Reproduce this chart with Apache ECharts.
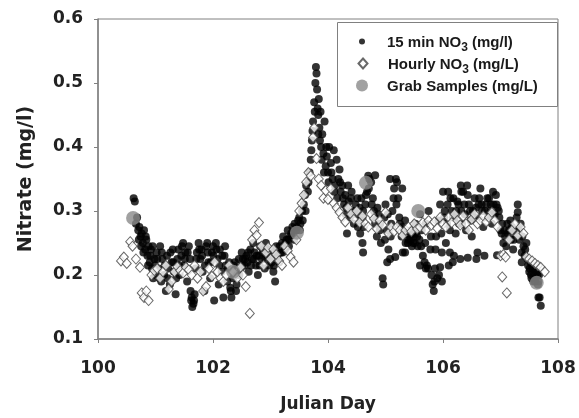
<!DOCTYPE html>
<html>
<head>
<meta charset="utf-8">
<script src="https://cdn.jsdelivr.net/npm/echarts@6/dist/echarts.min.js"></script>
<style>html,body{margin:0;padding:0;background:#fff}#c{width:579px;height:418px}</style>
</head>
<body>
<div id="c"></div>
<script>
// Axis ticks
const xTicks = [100, 102, 104, 106, 108];
const yTicks = [0.1, 0.2, 0.3, 0.4, 0.5, 0.6];
const seriesNames = ['15 min NO3 (mg/l)', 'Hourly NO3 (mg/L)', 'Grab Samples (mg/L)'];

// 15-minute nitrate readings [Julian day, mg/l]
const min15Points = [
[100.62,0.32],[100.64,0.315],[100.66,0.28],[100.68,0.29],[100.70,0.27],[100.72,0.275],[100.74,0.26],[100.76,0.265],[100.78,0.25],[100.80,0.27],
[100.82,0.24],[100.84,0.255],[100.86,0.23],[100.88,0.245],[100.90,0.22],[100.92,0.24],[100.94,0.21],[100.96,0.195],[100.98,0.225],[101.00,0.20],
[101.02,0.235],[101.05,0.21],[101.08,0.245],[101.10,0.19],[101.12,0.225],[101.15,0.20],[101.18,0.175],[101.20,0.23],[101.22,0.21],[101.25,0.185],
[101.28,0.22],[101.30,0.24],[101.32,0.205],[101.35,0.17],[101.38,0.225],[101.40,0.24],[101.42,0.20],[101.45,0.23],[101.48,0.25],[101.50,0.215],
[101.52,0.235],[101.55,0.19],[101.58,0.245],[101.60,0.225],[101.62,0.16],[101.64,0.15],[101.66,0.155],[101.68,0.17],[101.70,0.21],[101.72,0.235],
[101.75,0.25],[101.78,0.225],[101.80,0.24],[101.82,0.205],[101.85,0.175],[101.88,0.245],[101.90,0.25],[101.92,0.22],[101.95,0.195],[101.98,0.235],
[102.00,0.245],[102.02,0.16],[102.05,0.25],[102.08,0.225],[102.10,0.185],[102.12,0.24],[102.15,0.205],[102.18,0.165],[102.20,0.23],[102.22,0.215],
[102.25,0.19],[102.28,0.22],[102.30,0.18],[102.32,0.165],[102.35,0.195],[102.38,0.22],[102.40,0.175],[102.42,0.20],[102.45,0.225],[102.48,0.21],
[102.50,0.235],[102.52,0.225],[102.55,0.215],[102.58,0.23],[102.60,0.22],[102.62,0.205],[102.65,0.24],[102.68,0.225],[102.70,0.25],[102.72,0.235],
[102.75,0.215],[102.78,0.20],[102.80,0.23],[102.82,0.245],[102.85,0.225],[102.88,0.24],[102.90,0.21],[102.92,0.25],[102.95,0.23],[102.98,0.215],
[103.00,0.24],[103.02,0.22],[103.05,0.205],[103.08,0.19],[103.10,0.245],[103.12,0.23],[103.15,0.22],[103.18,0.235],[103.20,0.25],[103.22,0.26],
[103.25,0.24],[103.28,0.255],[103.30,0.27],[103.32,0.245],[103.35,0.26],[103.38,0.275],[103.40,0.265],[103.42,0.28],[103.45,0.27],[103.48,0.285],
[103.50,0.29],[103.52,0.28],[103.55,0.30],[103.58,0.31],[103.60,0.325],[103.62,0.34],[103.65,0.33],[103.68,0.36],[103.70,0.38],[103.72,0.41],
[103.74,0.44],[103.76,0.47],[103.78,0.50],[103.79,0.525],[103.80,0.515],[103.81,0.49],[103.82,0.46],[103.83,0.45],[103.84,0.475],[103.85,0.43],
[103.86,0.41],[103.87,0.455],[103.88,0.40],[103.90,0.42],[103.92,0.39],[103.94,0.44],[103.96,0.37],[103.98,0.385],[104.00,0.36],[104.02,0.40],
[104.05,0.375],[104.08,0.35],[104.10,0.395],[104.12,0.34],[104.15,0.38],[104.18,0.35],[104.20,0.365],[104.22,0.33],[104.25,0.34],[104.28,0.31],
[104.30,0.325],[104.32,0.305],[104.35,0.34],[104.38,0.29],[104.40,0.32],[104.42,0.30],[104.45,0.28],[104.48,0.31],[104.50,0.295],[104.52,0.275],
[104.55,0.305],[104.58,0.32],[104.60,0.29],[104.62,0.275],[104.65,0.31],[104.68,0.33],[104.70,0.355],[104.72,0.35],[104.75,0.345],[104.78,0.32],
[104.80,0.30],[104.82,0.28],[104.85,0.26],[104.88,0.295],[104.90,0.27],[104.92,0.25],[104.95,0.195],[104.96,0.185],[104.98,0.29],[105.00,0.31],
[105.02,0.27],[105.05,0.24],[105.08,0.225],[105.10,0.28],[105.12,0.30],[105.15,0.335],[105.18,0.35],[105.20,0.345],[105.22,0.32],[105.25,0.28],
[105.28,0.26],[105.30,0.235],[105.32,0.27],[105.35,0.25],[105.38,0.265],[105.40,0.255],[105.42,0.26],[105.45,0.27],[105.48,0.25],[105.50,0.265],
[105.52,0.28],[105.55,0.26],[105.58,0.275],[105.60,0.295],[105.62,0.245],[105.65,0.23],[105.68,0.22],[105.70,0.28],[105.72,0.215],[105.75,0.30],
[105.78,0.24],[105.80,0.20],[105.82,0.185],[105.84,0.175],[105.86,0.21],[105.88,0.26],[105.90,0.195],[105.92,0.285],[105.95,0.31],[105.98,0.235],
[106.00,0.33],[106.02,0.29],[106.05,0.25],[106.08,0.31],[106.10,0.215],[106.12,0.27],[106.15,0.30],[106.18,0.32],[106.20,0.29],[106.22,0.265],
[106.25,0.315],[106.28,0.28],[106.30,0.225],[106.32,0.30],[106.35,0.33],[106.38,0.295],[106.40,0.27],[106.42,0.34],[106.45,0.31],[106.48,0.285],
[106.50,0.26],[106.52,0.30],[106.55,0.32],[106.58,0.225],[106.60,0.29],[106.62,0.31],[106.65,0.335],[106.68,0.30],[106.70,0.275],[106.72,0.23],
[106.75,0.31],[106.78,0.29],[106.80,0.32],[106.82,0.30],[106.85,0.28],[106.88,0.31],[106.90,0.295],[106.92,0.325],[106.95,0.305],[106.98,0.29],
[107.00,0.27],[107.02,0.265],[107.05,0.25],[107.08,0.26],[107.10,0.245],[107.12,0.28],[107.15,0.27],[107.18,0.255],[107.20,0.275],[107.22,0.24],
[107.25,0.265],[107.28,0.29],[107.30,0.31],[107.32,0.27],[107.35,0.28],[107.38,0.26],[107.40,0.245],[107.42,0.23],[107.45,0.25],[107.48,0.215],
[107.50,0.205],[107.52,0.22],[107.54,0.195],[107.56,0.21],[107.58,0.20],[107.60,0.19],[107.62,0.215],[107.64,0.20],[107.66,0.19],[107.68,0.165],
[107.70,0.152],
[100.71,0.255],[100.75,0.245],[100.79,0.235],[100.83,0.26],[100.87,0.215],[100.91,0.23],[100.95,0.245],[100.99,0.215],[101.03,0.225],[101.07,0.195],
[101.11,0.235],[101.16,0.215],[101.21,0.195],[101.26,0.235],[101.31,0.22],[101.36,0.195],[101.41,0.215],[101.46,0.245],[101.51,0.225],[101.56,0.235],
[101.61,0.175],[101.63,0.165],[101.67,0.16],[101.71,0.225],[101.76,0.24],[101.81,0.23],[101.86,0.215],[101.91,0.235],[101.96,0.22],[102.01,0.23],
[102.06,0.24],[102.11,0.215],[102.16,0.23],[102.21,0.245],[102.26,0.21],[102.31,0.175],[102.36,0.215],[102.41,0.185],[102.46,0.20],[102.51,0.215],
[102.56,0.225],[102.61,0.235],[102.66,0.215],[102.71,0.225],[102.76,0.23],[102.81,0.215],[102.86,0.235],[102.91,0.225],[102.96,0.24],[103.01,0.23],
[103.06,0.215],[103.11,0.235],[103.16,0.245],[103.21,0.235],[103.26,0.25],[103.31,0.255],[103.36,0.265],[103.41,0.255],[103.46,0.275],[103.51,0.27],
[103.56,0.285],[103.61,0.30],[103.66,0.345],[103.71,0.395],[103.73,0.425],[103.77,0.455],[103.83,0.42],[103.89,0.38],[103.93,0.36],[103.97,0.40],
[104.01,0.345],[104.06,0.36],[104.11,0.33],[104.16,0.32],[104.21,0.345],[104.26,0.32],[104.31,0.295],[104.36,0.315],[104.41,0.33],[104.46,0.30],
[104.51,0.32],[104.56,0.285],[104.61,0.30],[104.66,0.325],[104.71,0.335],[104.76,0.31],[104.81,0.29],[104.86,0.305],[104.91,0.28],[104.99,0.255],
[105.04,0.295],[105.09,0.26],[105.14,0.32],[105.19,0.31],[105.24,0.29],[105.29,0.275],[105.34,0.285],[105.39,0.25],[105.44,0.255],[105.46,0.245],
[105.49,0.26],[105.51,0.25],[105.53,0.265],[105.56,0.245],[105.59,0.255],[105.63,0.27],[105.69,0.25],[105.74,0.21],[105.79,0.26],[105.87,0.24],
[105.93,0.20],[105.97,0.265],[106.03,0.30],[106.07,0.28],[106.13,0.32],[106.17,0.29],[106.23,0.30],[106.27,0.31],[106.33,0.28],[106.37,0.31],
[106.43,0.325],[106.47,0.30],[106.53,0.29],[106.57,0.305],[106.63,0.32],[106.67,0.31],[106.73,0.30],[106.77,0.32],[106.83,0.31],[106.87,0.295],
[106.93,0.31],[106.97,0.30],[107.03,0.28],[107.07,0.27],[107.13,0.265],[107.17,0.285],[107.23,0.255],[107.27,0.27],[107.33,0.255],[107.37,0.235],
[107.43,0.24],[107.47,0.225],[107.51,0.21],[107.53,0.20],[107.55,0.215],[107.57,0.19],[107.59,0.21],[107.61,0.195],[107.63,0.205],[107.65,0.185],
[107.67,0.20],
[104.33,0.265],[104.56,0.265],[104.60,0.25],[104.61,0.235],[105.03,0.22],[105.17,0.228],[105.34,0.235],[105.60,0.215],[105.70,0.21],[105.85,0.19],
[105.95,0.212],[105.98,0.19],[106.12,0.235],[106.17,0.22],[106.19,0.23],[106.43,0.227],[106.60,0.235],[106.94,0.231],[106.31,0.34],[106.32,0.33],
[106.09,0.33],[106.87,0.33],[107.30,0.298],[107.37,0.22],[104.82,0.356],[105.08,0.35],[105.29,0.335],[107.66,0.165]
];

// Hourly nitrate readings [Julian day, mg/L]
const hourlyPoints = [
[100.40,0.222],[100.45,0.228],[100.50,0.218],[100.56,0.252],[100.60,0.245],[100.66,0.225],[100.73,0.212],[100.76,0.172],[100.80,0.165],[100.84,0.175],
[100.88,0.160],[100.93,0.200],[100.98,0.207],[101.03,0.210],[101.08,0.195],[101.13,0.205],[101.18,0.215],[101.23,0.178],[101.28,0.190],[101.33,0.205],
[101.38,0.213],[101.43,0.207],[101.48,0.203],[101.53,0.212],[101.58,0.208],[101.63,0.200],[101.68,0.215],[101.73,0.195],[101.78,0.205],[101.83,0.175],
[101.88,0.182],[101.93,0.210],[101.98,0.198],[102.03,0.220],[102.08,0.205],[102.13,0.195],[102.18,0.190],[102.23,0.200],[102.28,0.215],[102.35,0.205],
[102.42,0.195],[102.48,0.212],[102.52,0.200],[102.57,0.182],[102.64,0.140],[102.68,0.255],[102.72,0.270],[102.76,0.262],[102.80,0.282],[102.84,0.245],
[102.88,0.215],[102.92,0.235],[102.96,0.243],[103.00,0.225],[103.05,0.240],[103.10,0.232],[103.15,0.222],[103.20,0.215],[103.25,0.245],[103.30,0.238],
[103.35,0.228],[103.40,0.220],[103.45,0.255],[103.50,0.300],[103.54,0.312],[103.58,0.325],[103.62,0.345],[103.66,0.360],[103.70,0.355],[103.74,0.415],
[103.76,0.430],[103.80,0.382],[103.84,0.350],[103.88,0.340],[103.92,0.320],[103.96,0.332],[104.00,0.318],[104.05,0.335],[104.10,0.312],[104.15,0.305],
[104.20,0.298],[104.25,0.290],[104.30,0.283],[104.35,0.305],[104.40,0.295],[104.45,0.287],[104.50,0.300],[104.55,0.282],[104.60,0.292],[104.65,0.280],
[104.70,0.275],[104.75,0.295],[104.80,0.288],[104.85,0.272],[104.90,0.285],[104.95,0.278],[105.00,0.298],[105.05,0.265],[105.10,0.275],[105.15,0.268],
[105.20,0.275],[105.25,0.270],[105.30,0.262],[105.35,0.270],[105.40,0.275],[105.45,0.268],[105.50,0.280],[105.55,0.272],[105.60,0.275],[105.65,0.282],
[105.70,0.270],[105.75,0.285],[105.80,0.278],[105.85,0.283],[105.90,0.273],[105.95,0.290],[106.00,0.280],[106.05,0.275],[106.10,0.290],[106.15,0.282],
[106.20,0.295],[106.25,0.285],[106.30,0.278],[106.35,0.292],[106.40,0.280],[106.45,0.270],[106.50,0.287],[106.55,0.295],[106.60,0.280],[106.65,0.285],
[106.70,0.292],[106.75,0.283],[106.80,0.290],[106.85,0.298],[106.90,0.285],[106.95,0.275],[107.00,0.230],[107.03,0.197],[107.05,0.232],[107.09,0.228],
[107.11,0.172],[107.15,0.255],[107.20,0.270],[107.25,0.280],[107.30,0.262],[107.35,0.275],[107.40,0.265],[107.45,0.228],[107.50,0.225],[107.55,0.222],
[107.60,0.218],[107.65,0.215],[107.70,0.212],[107.77,0.205]
];

// Grab samples [Julian day, mg/L]
const grabPoints = [[100.61,0.289],[102.35,0.205],[103.46,0.266],[104.66,0.344],[105.57,0.300],[107.63,0.188]];

const AXFONT = 'DejaVu Sans, sans-serif';
const LGFONT = 'Liberation Sans, Arial, sans-serif';
const chart = echarts.init(document.getElementById('c'), null, {renderer: 'canvas'});

function legendFmt(name) {
  if (name === seriesNames[0]) return '{g|}{a|15 min NO}{s|3}{a| (mg/l)}';
  if (name === seriesNames[1]) return '{g|}{a|Hourly NO}{s|3}{a| (mg/L)}';
  return '{g|}{a|Grab Samples (mg/L)}';
}
function legendText(spacer) {
  return {
    fontFamily: LGFONT, fontWeight: 'bold', fontSize: 15, color: '#1a1a1a',
    rich: {
      g: {width: spacer, height: 16},
      a: {fontFamily: LGFONT, fontWeight: 'bold', fontSize: 15, color: '#1a1a1a', lineHeight: 18, verticalAlign: 'bottom'},
      s: {fontFamily: LGFONT, fontWeight: 'bold', fontSize: 12, color: '#1a1a1a', lineHeight: 18, verticalAlign: 'bottom', padding: [0, 0, -3, 0]}
    }
  };
}
function mkLegend(name, cy, w, h) {
  return {
    data: [name], left: 362 - w / 2, top: cy - 9, itemWidth: w, itemHeight: h, itemGap: 0,
    padding: 0, formatter: legendFmt, textStyle: legendText(20 - w / 2),
    selectedMode: false
  };
}

const option = {
  animation: false,
  backgroundColor: '#ffffff',
  grid: {left: 98, right: 21, top: 19, bottom: 79, show: true, borderColor: '#808080', borderWidth: 1},
  legend: [
    mkLegend(seriesNames[0], 43, 6, 6),
    mkLegend(seriesNames[1], 65, 9, 10),
    mkLegend(seriesNames[2], 87, 12, 12)
  ],
  graphic: [{
    type: 'rect', left: 335, top: 20, shape: {width: 220, height: 84},
    style: {fill: 'none', stroke: '#808080', lineWidth: 1}, z: 10
  }],
  xAxis: {
    type: 'value', min: xTicks[0], max: xTicks[xTicks.length - 1], interval: 2,
    name: 'Julian Day', nameLocation: 'middle', nameGap: 57,
    nameTextStyle: {fontFamily: AXFONT, fontWeight: 'bold', fontSize: 17, color: '#222'},
    axisLine: {show: true, lineStyle: {color: '#808080', width: 1.5}},
    axisTick: {show: true, length: 4, lineStyle: {color: '#808080'}},
    axisLabel: {fontFamily: AXFONT, fontWeight: 'bold', fontSize: 17, color: '#222', margin: 21},
    splitLine: {show: false}
  },
  yAxis: {
    type: 'value', min: yTicks[0], max: yTicks[yTicks.length - 1], interval: 0.1,
    name: 'Nitrate (mg/l)', nameLocation: 'middle', nameGap: 62, nameRotate: 90,
    nameTextStyle: {fontFamily: AXFONT, fontWeight: 'bold', fontSize: 19, color: '#222'},
    axisLine: {show: true, lineStyle: {color: '#808080', width: 1.5}},
    axisTick: {show: true, length: 4, lineStyle: {color: '#808080'}},
    axisLabel: {fontFamily: AXFONT, fontWeight: 'bold', fontSize: 17, color: '#222', margin: 15,
      formatter: v => v.toFixed(1)},
    splitLine: {show: false}
  },
  series: [
    {name: seriesNames[0], type: 'scatter', data: min15Points, symbol: 'circle', symbolSize: 8,
     itemStyle: {color: '#000'}, z: 2},
    {name: seriesNames[1], type: 'scatter', data: hourlyPoints, symbol: 'diamond', symbolSize: [9, 10],
     itemStyle: {color: '#fff', borderColor: '#444', borderWidth: 1}, z: 3},
    {name: seriesNames[2], type: 'scatter', data: grabPoints, symbol: 'circle', symbolSize: 14,
     itemStyle: {color: '#8a8a8a'}, z: 4}
  ]
};
chart.setOption(option);
</script>
</body>
</html>
